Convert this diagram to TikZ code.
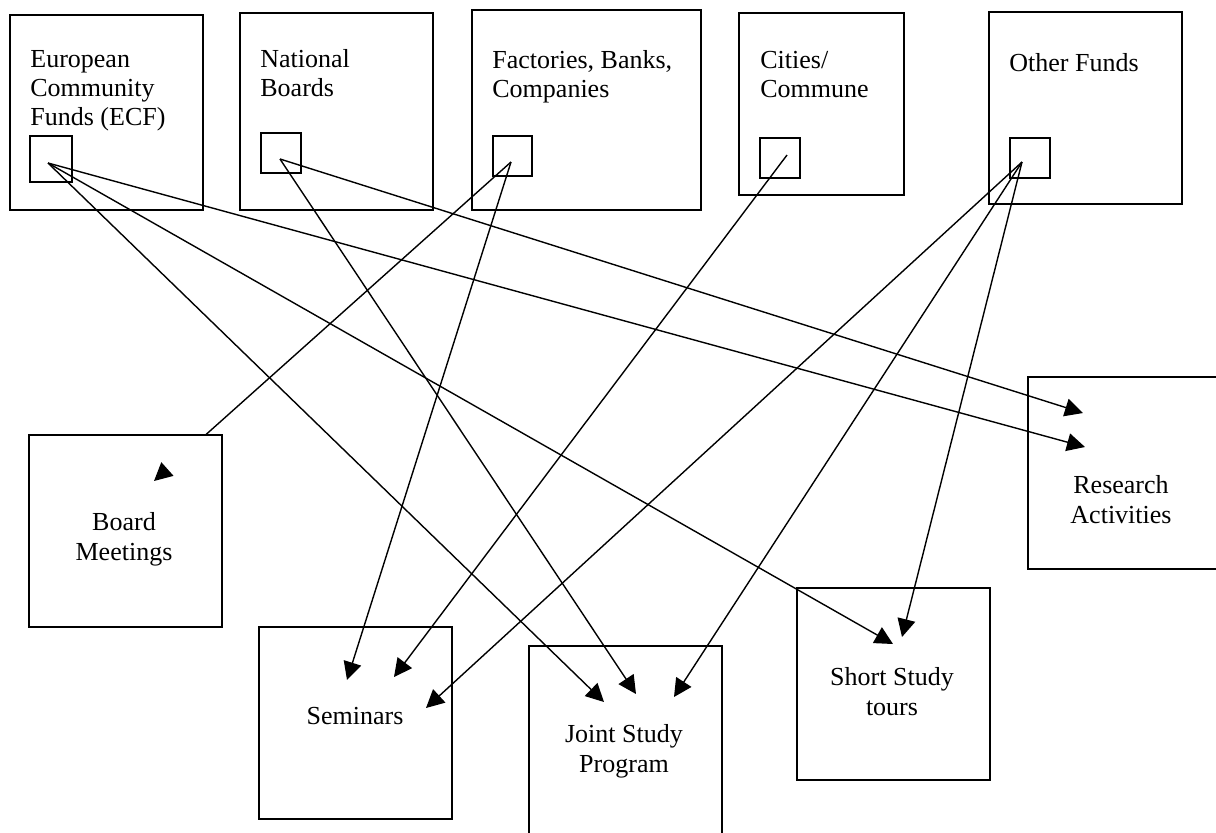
\documentclass[tikz,border=0pt]{standalone}
\usepackage{fontspec}
\setmainfont{Liberation Serif}
\usetikzlibrary{arrows.meta,calc}
\tikzset{
    fund/.style = {
        draw,
        shape=rectangle,
        anchor=north west,
        inner sep=0pt,
        line width=1pt
    },
    outlet/.style = {
        draw,
        shape=rectangle,
        anchor=north west,
        minimum width=20pt,
        minimum height=20pt,
        inner sep=0pt,
        line width=1pt
    },
    activity/.style = {
        draw,
        shape=rectangle,
        anchor=north west,
        minimum width=96.5pt,
        minimum height=96pt,
        inner sep=0pt,
        line width=1pt
    },
    caption/.style = {
        anchor=base west,
        align=left,
        inner sep=0pt,
        font=\fontsize{13}{14.5}\selectfont
    },
    title/.style = {
        anchor=base,
        align=center,
        inner sep=0pt,
        font=\fontsize{13}{15}\selectfont
    },
    flow/.style = {
        draw,
        line width=0.7pt,
        -{Triangle[length=9pt,width=9pt]}
    },
}

\begin{document}
\begin{tikzpicture}[x=0.5pt,y=-0.5pt]
            \useasboundingbox (0,0) rectangle (1216,832);

            % funding sources (text placed by its last baseline)
            \node[fund, minimum width=96.5pt, minimum height=97.5pt] (ecf) at (9,14) {};
            \node[fund, minimum width=96.5pt, minimum height=98.5pt] (nb) at (239,12) {};
            \node[fund, minimum width=114.5pt, minimum height=100pt] (fbc) at (471,9) {};
            \node[fund, minimum width=82.5pt, minimum height=91pt] (cc) at (738,12) {};
            \node[fund, minimum width=96.5pt, minimum height=96pt] (of) at (988,11) {};

            \node[caption] (ecftext) at (30,125) {European\\Community\\Funds (ECF)};
            \node[caption] (nbtext) at (260,96) {National\\Boards};
            \node[caption] (fbctext) at (492,97) {Factories, Banks,\\Companies};
            \node[caption] (cctext) at (760,97) {Cities/\\Commune};
            \node[caption] (oftext) at (1009,71) {Other Funds};

            \node[outlet, minimum width=21pt, minimum height=23pt] (ecfbox) at (29,135) {};
            \node[outlet] (nbbox) at (260,132) {};
            \node[outlet, minimum width=19.5pt] (fbcbox) at (492,135) {};
            \node[outlet] (ccbox) at (759,137) {};
            \node[outlet] (ofbox) at (1009,137) {};

            \coordinate (ecf-out) at (48,163);
            \coordinate (nb-out) at (280,159);
            \coordinate (fbc-out) at (511,162);
            \coordinate (cc-out) at (787,155);
            \coordinate (of-out) at (1022,162);

            % activities
            \node[activity] (sem) at (258,626) {};
            \node[activity, minimum height=95pt] (jsp) at (528,645) {};
            \node[activity] (tour) at (796,587) {};
            \node[activity, minimum width=95.5pt] (res) at (1027,376) {};

            \node[title] (semtext) at (355,724) {Seminars};
            \node[title] (jsptext) at (624,772) {Joint Study\\Program};
            \node[title] (tourtext) at (892,715) {Short Study\\tours};
            \node[title] (restext) at (1121,523) {Research\\Activities};

            \coordinate (res-in1) at (1083,413);
            \coordinate (res-in2) at (1085,447);
            \coordinate (bm-in) at (154,481);
            \coordinate (sem-in1) at (347,680);
            \coordinate (sem-in2) at (394,677);
            \coordinate (sem-in3) at (426,708);
            \coordinate (jsp-in1) at (604,702);
            \coordinate (jsp-in2) at (636,694);
            \coordinate (jsp-in3) at (674,697);
            \coordinate (tour-in1) at (893,644);
            \coordinate (tour-in2) at (902,637);

            \path[flow] (ecf-out) -- (res-in2);
            \path[flow] (ecf-out) -- (jsp-in1);
            \path[flow] (ecf-out) -- (tour-in1);
            \path[flow] (nb-out) -- (res-in1);
            \path[flow] (nb-out) -- (jsp-in2);
            \path[flow] (fbc-out) -- (bm-in);
            \path[flow] (fbc-out) -- (sem-in1);
            \path[flow] (cc-out) -- (sem-in2);
            \path[flow] (of-out) -- (sem-in3);
            \path[flow] (of-out) -- (jsp-in3);
            \path[flow] (of-out) -- (tour-in2);

            % board box hides its line, head stays on top
            \node[activity, fill=white] (bm) at (28,434) {};
            \node[title] (bmtext) at (124,560) {Board\\Meetings};
            \path[flow] ($(fbc-out)!0.98!(bm-in)$) -- (bm-in);
        \end{tikzpicture}
\end{document}
